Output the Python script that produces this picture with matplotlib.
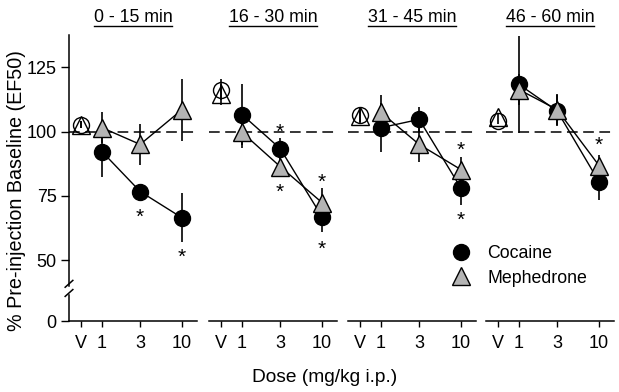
import numpy as np
import matplotlib
matplotlib.use('Agg')
import matplotlib.pyplot as plt
from matplotlib.lines import Line2D

plt.rcParams['font.family'] = ['Liberation Sans', 'DejaVu Sans']

# ---------------- data ----------------
doses = [0.546, 1, 3, 10]          # V (vehicle) plotted left of 1 on the log dose axis
dose_labels = ['V', '1', '3', '10']
periods = ['0 - 15 min', '16 - 30 min', '31 - 45 min', '46 - 60 min']

coc_mean = [[102.7, 92.2, 76.7, 66.5],
            [116.3, 106.6, 93.4, 66.9],
            [106.6, 101.5, 104.7, 78.0],
            [104.0, 118.3, 108.0, 80.5]]
coc_err = [[1.5, 10.0, 2.0, 9.5],
           [4.0, 12.0, 4.0, 6.0],
           [3.0, 9.5, 5.0, 6.6],
           [1.0, 19.0, 6.0, 7.0]]
meph_mean = [[102.7, 101.5, 95.0, 108.5],
             [114.4, 99.7, 86.4, 72.4],
             [106.0, 107.4, 95.0, 85.2],
             [105.8, 116.3, 108.5, 86.8]]
meph_err = [[1.5, 6.0, 8.0, 12.0],
            [4.0, 6.0, 4.0, 5.6],
            [3.0, 6.6, 7.0, 5.0],
            [1.0, 6.0, 6.0, 4.0]]

# significance asterisks: panel, dose index, y position
star_panel = [0, 0, 1, 1, 1, 1, 2, 2, 3]
star_dose = [2, 3, 2, 2, 3, 3, 3, 3, 3]
star_y = [66.6, 51.1, 99.6, 76.3, 80.3, 54.1, 92.8, 65.4, 94.6]

yticks = [0, 50, 75, 100, 125]

# ---------------- broken y scale ----------------
def fwd(v):
    v = np.asarray(v, dtype=float)
    return np.where(v >= 50, v, 26.4 + v * (23.6 / 50.0))

def inv(t):
    t = np.asarray(t, dtype=float)
    return np.where(t >= 50, t, (t - 26.4) * 50.0 / 23.6)

W, H = 619, 392
fig = plt.figure(figsize=(W / 100, H / 100), dpi=100)

lefts = [69, 209, 348, 486]
pw = 128
bottom = (H - 321) / H
height = 286 / H

grey = '#b4b4b4'
axes = []
for i, lx in enumerate(lefts):
    ax = fig.add_axes([lx / W, bottom, pw / W, height])
    axes.append(ax)
    ax.set_xscale('log')
    ax.set_yscale('function', functions=(fwd, inv))
    ax.set_xlim(0.387, 15.4)
    ax.set_ylim(0, 137.5)
    for s in ['top', 'right', 'left']:
        ax.spines[s].set_visible(False)
    ax.spines['bottom'].set_linewidth(1.1)
    ax.set_xticks(doses)
    ax.set_xticklabels(dose_labels)
    ax.xaxis.set_minor_locator(matplotlib.ticker.NullLocator())
    ax.tick_params(axis='x', direction='out', length=4, width=1, labelsize=13, pad=6)
    if i == 0:
        ax.set_yticks(yticks)
        ax.set_yticklabels([str(t) for t in yticks])
        ax.yaxis.set_minor_locator(matplotlib.ticker.NullLocator())
        ax.tick_params(axis='y', direction='out', length=6, width=1, labelsize=13, pad=3)
        # left spine with break
        tr = ax.transAxes
        ax.plot([0, 0], [0.122, 1.0], color='black', lw=1.1, transform=tr, clip_on=False)
        ax.plot([0, 0], [0.0, 0.091], color='black', lw=1.1, transform=tr, clip_on=False)
        for yb in [0.130, 0.098]:
            ax.plot([-0.030, 0.030], [yb - 0.012, yb + 0.012], color='black', lw=1.1,
                    transform=tr, clip_on=False)
    else:
        ax.set_yticks([])
    ax.axhline(100, color='black', lw=1.1, dashes=(7, 3.6), zorder=1)

    # error bars
    ax.errorbar(doses, coc_mean[i], yerr=coc_err[i], fmt='none', ecolor='black',
                elinewidth=1.2, capsize=0, zorder=2)
    ax.errorbar(doses, meph_mean[i], yerr=meph_err[i], fmt='none', ecolor='black',
                elinewidth=1.2, capsize=0, zorder=2)
    # connecting lines (drug doses only)
    ax.plot(doses[1:], coc_mean[i][1:], color='black', lw=1.0, zorder=3)
    ax.plot(doses[1:], meph_mean[i][1:], color='black', lw=1.0, zorder=3)
    # drug markers
    ax.plot(doses[1:], coc_mean[i][1:], 'o', ms=11.5, mfc='black', mec='black', zorder=4)
    ax.plot(doses[1:], meph_mean[i][1:], '^', ms=12.5, mfc=grey, mec='black', mew=1.0, zorder=5)
    # vehicle markers (open)
    ax.plot(doses[:1], coc_mean[i][:1], 'o', ms=11.5, mfc='none', mec='black', mew=1.0, zorder=4)
    ax.plot(doses[:1], meph_mean[i][:1], '^', ms=12.5, mfc='none', mec='black', mew=1.0, zorder=5)

for p, d, y in zip(star_panel, star_dose, star_y):
    axes[p].text(doses[d], y, '*', ha='center', va='center', fontsize=15, zorder=6)

# titles with underline
fig.canvas.draw()
renderer = fig.canvas.get_renderer()
for i, lx in enumerate(lefts):
    cx = (lx + pw / 2) / W
    t = fig.text(cx, 1 - 17 / H, periods[i], ha='center', va='center', fontsize=12.8)
    bb = t.get_window_extent(renderer=renderer)
    x0, x1 = bb.x0 / W, bb.x1 / W
    yl = 1 - 25.5 / H
    fig.add_artist(Line2D([x0, x1], [yl, yl], color='black', lw=1.0, transform=fig.transFigure))

fig.text(17 / W, 1 - 191 / H, '% Pre-injection Baseline (EF50)', rotation=90,
         ha='center', va='center', fontsize=14.2)
fig.text(325 / W, 1 - 377 / H, 'Dose (mg/kg i.p.)', ha='center', va='center', fontsize=13.8)

handles = [Line2D([], [], ls='none', marker='o', ms=11.5, mfc='black', mec='black'),
           Line2D([], [], ls='none', marker='^', ms=12.5, mfc=grey, mec='black')]
fig.legend(handles, ['Cocaine', 'Mephedrone'], loc='center left',
           bbox_to_anchor=(440 / W, 1 - 266 / H), frameon=False, fontsize=12.8,
           handlelength=1.4, handletextpad=0.75, labelspacing=0.4, borderpad=0)

fig.savefig('out.png', dpi=100)
